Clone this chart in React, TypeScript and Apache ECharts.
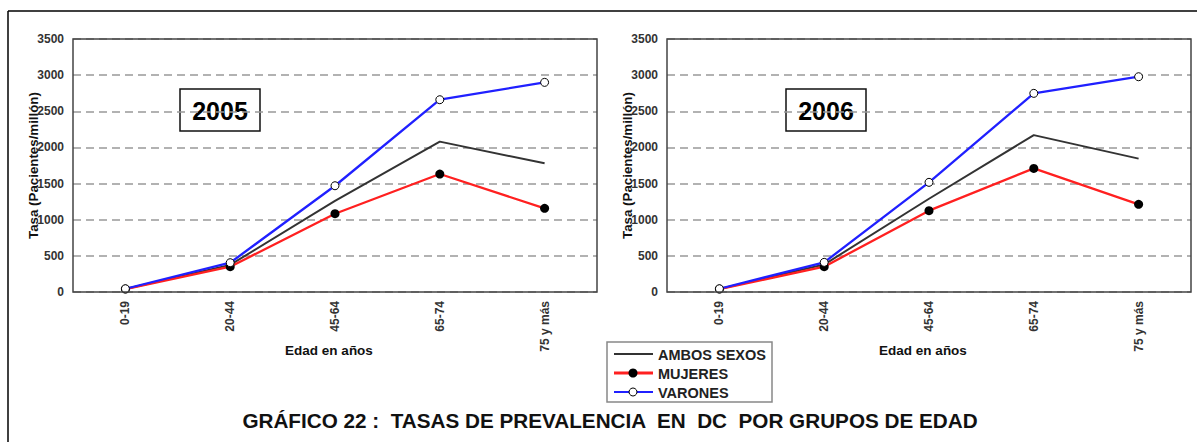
import React, { useEffect, useRef } from "react";
import * as echarts from "echarts";

const categories = ["0-19", "20-44", "45-64", "65-74", "75 y más"];
const seriesNames = ["AMBOS SEXOS", "MUJERES", "VARONES"];
const ambos2005 = [42, 375, 1260, 2080, 1780];
const mujeres2005 = [40, 350, 1083, 1632, 1157];
const varones2005 = [45, 405, 1470, 2660, 2900];
const ambos2006 = [42, 380, 1290, 2170, 1845];
const mujeres2006 = [40, 350, 1125, 1710, 1213];
const varones2006 = [45, 410, 1517, 2748, 2978];
const yMin = 0;
const yMax = 3500;
const yStep = 500;
const years = ["2005", "2006"];
const yAxisTitle = "Tasa (Pacientes/millón)";
const xAxisTitle = "Edad en años";
const chartTitle = "GRÁFICO 22 :  TASAS DE PREVALENCIA  EN  DC  POR GRUPOS DE EDAD";

const FONT = "'Liberation Sans', Arial, Helvetica, sans-serif";
const LINE_COLORS = ["#333", "#ff2020", "#2020ff"];

export default function App() {
  const ref = useRef<HTMLDivElement>(null);
  useEffect(() => {
    document.body.style.margin = "0";
    const chart = echarts.init(ref.current!, null, { renderer: "svg" });
    const grids = [
      { left: 73, top: 39, width: 524, height: 253 },
      { left: 667, top: 39, width: 524, height: 253 },
    ];
    const data = [
      [ambos2005, mujeres2005, varones2005],
      [ambos2006, mujeres2006, varones2006],
    ];
    const series: any[] = [];
    data.forEach((set, gi) => {
      series.push({
        name: seriesNames[0],
        type: "line",
        xAxisIndex: gi,
        yAxisIndex: gi,
        data: set[0],
        symbol: "none",
        lineStyle: { color: LINE_COLORS[0], width: 2 },
        itemStyle: { color: LINE_COLORS[0] },
        z: 3,
      });
      series.push({
        name: seriesNames[1],
        type: "line",
        xAxisIndex: gi,
        yAxisIndex: gi,
        data: set[1],
        symbol: "circle",
        symbolSize: 9,
        lineStyle: { color: LINE_COLORS[1], width: 2.3 },
        itemStyle: { color: "#000", borderColor: "#000", borderWidth: 0 },
        z: 4,
      });
      series.push({
        name: seriesNames[2],
        type: "line",
        xAxisIndex: gi,
        yAxisIndex: gi,
        data: set[2],
        symbol: "circle",
        symbolSize: 8,
        lineStyle: { color: LINE_COLORS[2], width: 2.3 },
        itemStyle: { color: "#fff", borderColor: "#000", borderWidth: 1 },
        z: 5,
      });
    });

    const graphics: any[] = [
      { type: "line", shape: { x1: 8, y1: 11, x2: 1197, y2: 11 }, style: { stroke: "#000", lineWidth: 1.5 } },
      { type: "line", shape: { x1: 8, y1: 11, x2: 8, y2: 442 }, style: { stroke: "#000", lineWidth: 1.5 } },
      {
        type: "text",
        x: 610,
        y: 420,
        style: { text: chartTitle, font: `bold 20.7px ${FONT}`, fill: "#111", textAlign: "center", textVerticalAlign: "middle" },
      },
    ];
    grids.forEach((g, gi) => {
      graphics.push({
        type: "rect",
        z: 100,
        shape: { x: g.left, y: g.top, width: g.width, height: g.height },
        style: { fill: "none", stroke: "#444", lineWidth: 1.5 },
      });
      graphics.push({
        type: "text",
        x: g.left - 40,
        y: g.top + g.height / 2,
        rotation: Math.PI / 2,
        style: { text: yAxisTitle, font: `bold 13.3px ${FONT}`, fill: "#111", textAlign: "center", textVerticalAlign: "middle" },
      });
      graphics.push({
        type: "text",
        x: g.left + g.width / 2 - 6,
        y: 350,
        style: { text: xAxisTitle, font: `bold 13.5px ${FONT}`, fill: "#111", textAlign: "center", textVerticalAlign: "middle" },
      });
      const bx = gi === 0 ? 180 : 786;
      graphics.push({
        type: "group",
        z: 50,
        children: [
          { type: "rect", shape: { x: bx, y: 89, width: 80, height: 42 }, style: { fill: "#fff", stroke: "#111", lineWidth: 1.5 } },
          {
            type: "text",
            x: bx + 40,
            y: 111,
            style: { text: years[gi], font: `bold 25px ${FONT}`, fill: "#000", textAlign: "center", textVerticalAlign: "middle" },
          },
        ],
      });
    });

    // legend
    const legendChildren: any[] = [
      { type: "rect", shape: { x: 607, y: 342, width: 165, height: 60 }, style: { fill: "#fff", stroke: "#888", lineWidth: 1.5 } },
    ];
    seriesNames.forEach((name, i) => {
      const cy = 354 + i * 19;
      legendChildren.push({
        type: "line",
        shape: { x1: 614, y1: cy, x2: 653, y2: cy },
        style: { stroke: LINE_COLORS[i], lineWidth: i === 1 ? 3 : 2 },
      });
      if (i === 1) {
        legendChildren.push({ type: "circle", shape: { cx: 633, cy, r: 4.5 }, style: { fill: "#000" } });
      } else if (i === 2) {
        legendChildren.push({ type: "circle", shape: { cx: 633, cy, r: 4 }, style: { fill: "#fff", stroke: "#000", lineWidth: 1 } });
      }
      legendChildren.push({
        type: "text",
        x: 658,
        y: cy + 1,
        style: { text: name, font: `bold 14.5px ${FONT}`, fill: "#222", textAlign: "left", textVerticalAlign: "middle" },
      });
    });
    graphics.push({ type: "group", z: 60, children: legendChildren });

    chart.setOption({
      animation: false,
      backgroundColor: "#fff",
      textStyle: { fontFamily: FONT },
      grid: grids.map((g) => ({ ...g, show: false })),
      xAxis: grids.map((_, gi) => ({
        type: "category",
        gridIndex: gi,
        data: categories,
        boundaryGap: true,
        axisLine: { show: false },
        axisTick: { show: false },
        axisLabel: { rotate: 90, margin: 9, fontSize: 12, fontWeight: "bold", color: "#333", fontFamily: FONT },
        splitLine: { show: false },
      })),
      yAxis: grids.map((_, gi) => ({
        type: "value",
        gridIndex: gi,
        min: yMin,
        max: yMax,
        interval: yStep,
        axisLine: { show: false },
        axisTick: { show: false },
        axisLabel: {
          margin: 9,
          fontSize: 12,
          fontWeight: "bold",
          color: "#333",
          fontFamily: FONT,
          formatter: (v: number) => String(v),
        },
        splitLine: { show: true, lineStyle: { color: "#999", width: 1.5, type: [8, 5] } },
      })),
      series,
      graphic: graphics,
    });
    return () => chart.dispose();
  }, []);
  return <div ref={ref} style={{ width: 1197, height: 442 }} />;
}
